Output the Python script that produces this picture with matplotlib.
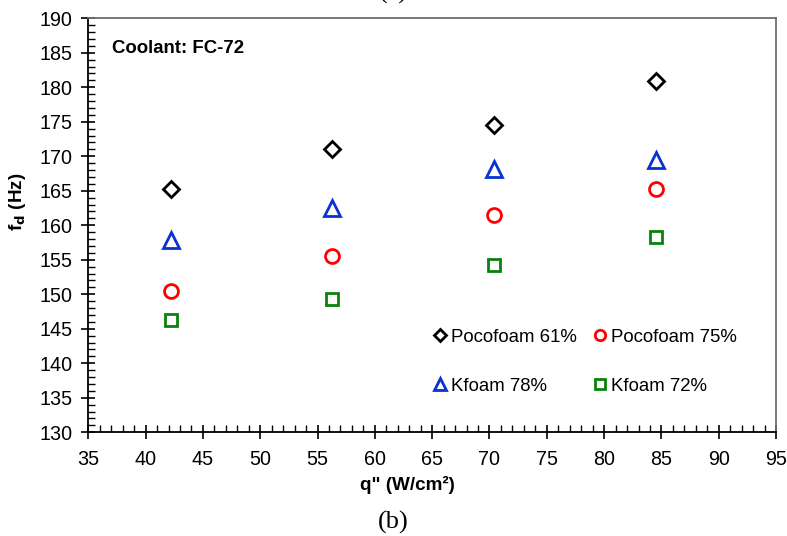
import matplotlib.pyplot as plt
from matplotlib.ticker import MultipleLocator

plt.rcParams["font.family"] = ["Liberation Sans", "DejaVu Sans"]

# Heat flux (W/cm2)
heat_flux = [42.2, 56.3, 70.4, 84.5]

# Bubble departure frequency (Hz)
pocofoam_61 = [165.2, 171.0, 174.5, 180.9]
pocofoam_75 = [150.5, 155.5, 161.5, 165.2]
kfoam_78 = [157.9, 162.5, 168.2, 169.5]
kfoam_72 = [146.3, 149.3, 154.3, 158.3]

fig = plt.figure(figsize=(7.87, 5.36), dpi=100)
ax = fig.add_axes([0.1122, 0.1935, 0.8739, 0.7724])

h1, = ax.plot(heat_flux, pocofoam_61, "D", ms=8, mfc="none", mec="black", mew=2, label="Pocofoam 61%")
h2, = ax.plot(heat_flux, pocofoam_75, "o", ms=10, mfc="none", mec="red", mew=2, label="Pocofoam 75%")
h3, = ax.plot(heat_flux, kfoam_78, "^", ms=11, mfc="none", mec="#0a32d2", mew=2, label="Kfoam 78%")
h4, = ax.plot(heat_flux, kfoam_72, "s", ms=9, mfc="none", mec="#0a820a", mew=2, label="Kfoam 72%")

ax.set_xlim(35, 95)
ax.set_ylim(130, 190)
ax.xaxis.set_major_locator(MultipleLocator(5))
ax.xaxis.set_minor_locator(MultipleLocator(1))
ax.yaxis.set_major_locator(MultipleLocator(5))
ax.yaxis.set_minor_locator(MultipleLocator(1))
ax.tick_params(which="major", direction="inout", length=10, width=1.2, labelsize=14.2)
ax.tick_params(axis="x", which="major", pad=7.5)
ax.tick_params(axis="y", which="major", pad=6.5)
ax.tick_params(which="minor", direction="in", length=5, width=1)
ax.tick_params(top=False, right=False)

for side in ["left", "bottom"]:
    ax.spines[side].set_linewidth(1.3)
    ax.spines[side].set_color("black")
for side in ["top", "right"]:
    ax.spines[side].set_linewidth(1.3)
    ax.spines[side].set_color("#6e6e6e")

ax.set_xlabel('q" (W/cm²)', fontsize=13.6, fontweight="bold")
ax.xaxis.set_label_coords(0.464, -0.105)
ax.set_ylabel("f$_\\mathbf{d}$ (Hz)", fontsize=13.6, fontweight="bold")
ax.yaxis.set_label_coords(-0.087, 0.556)

ax.text(0.034, 0.927, "Coolant: FC-72", transform=ax.transAxes, fontsize=13.4,
        fontweight="bold", va="center")

ax.legend(handles=[h1, h3, h2, h4], ncol=2, frameon=False, fontsize=13.4,
          loc="upper left", bbox_to_anchor=(0.49, 0.272), handlelength=0.6,
          handletextpad=0.3, columnspacing=0.9, labelspacing=1.71, borderpad=0,
          markerscale=0.75)

fig.text(0.5, 0.025, "(b)", ha="center", va="center", fontsize=19, family="Liberation Serif")
fig.text(0.5, 1.0 + 8 / 536, "(a)", ha="center", va="center", fontsize=19, family="Liberation Serif")

fig.savefig("out.png", dpi=100)
